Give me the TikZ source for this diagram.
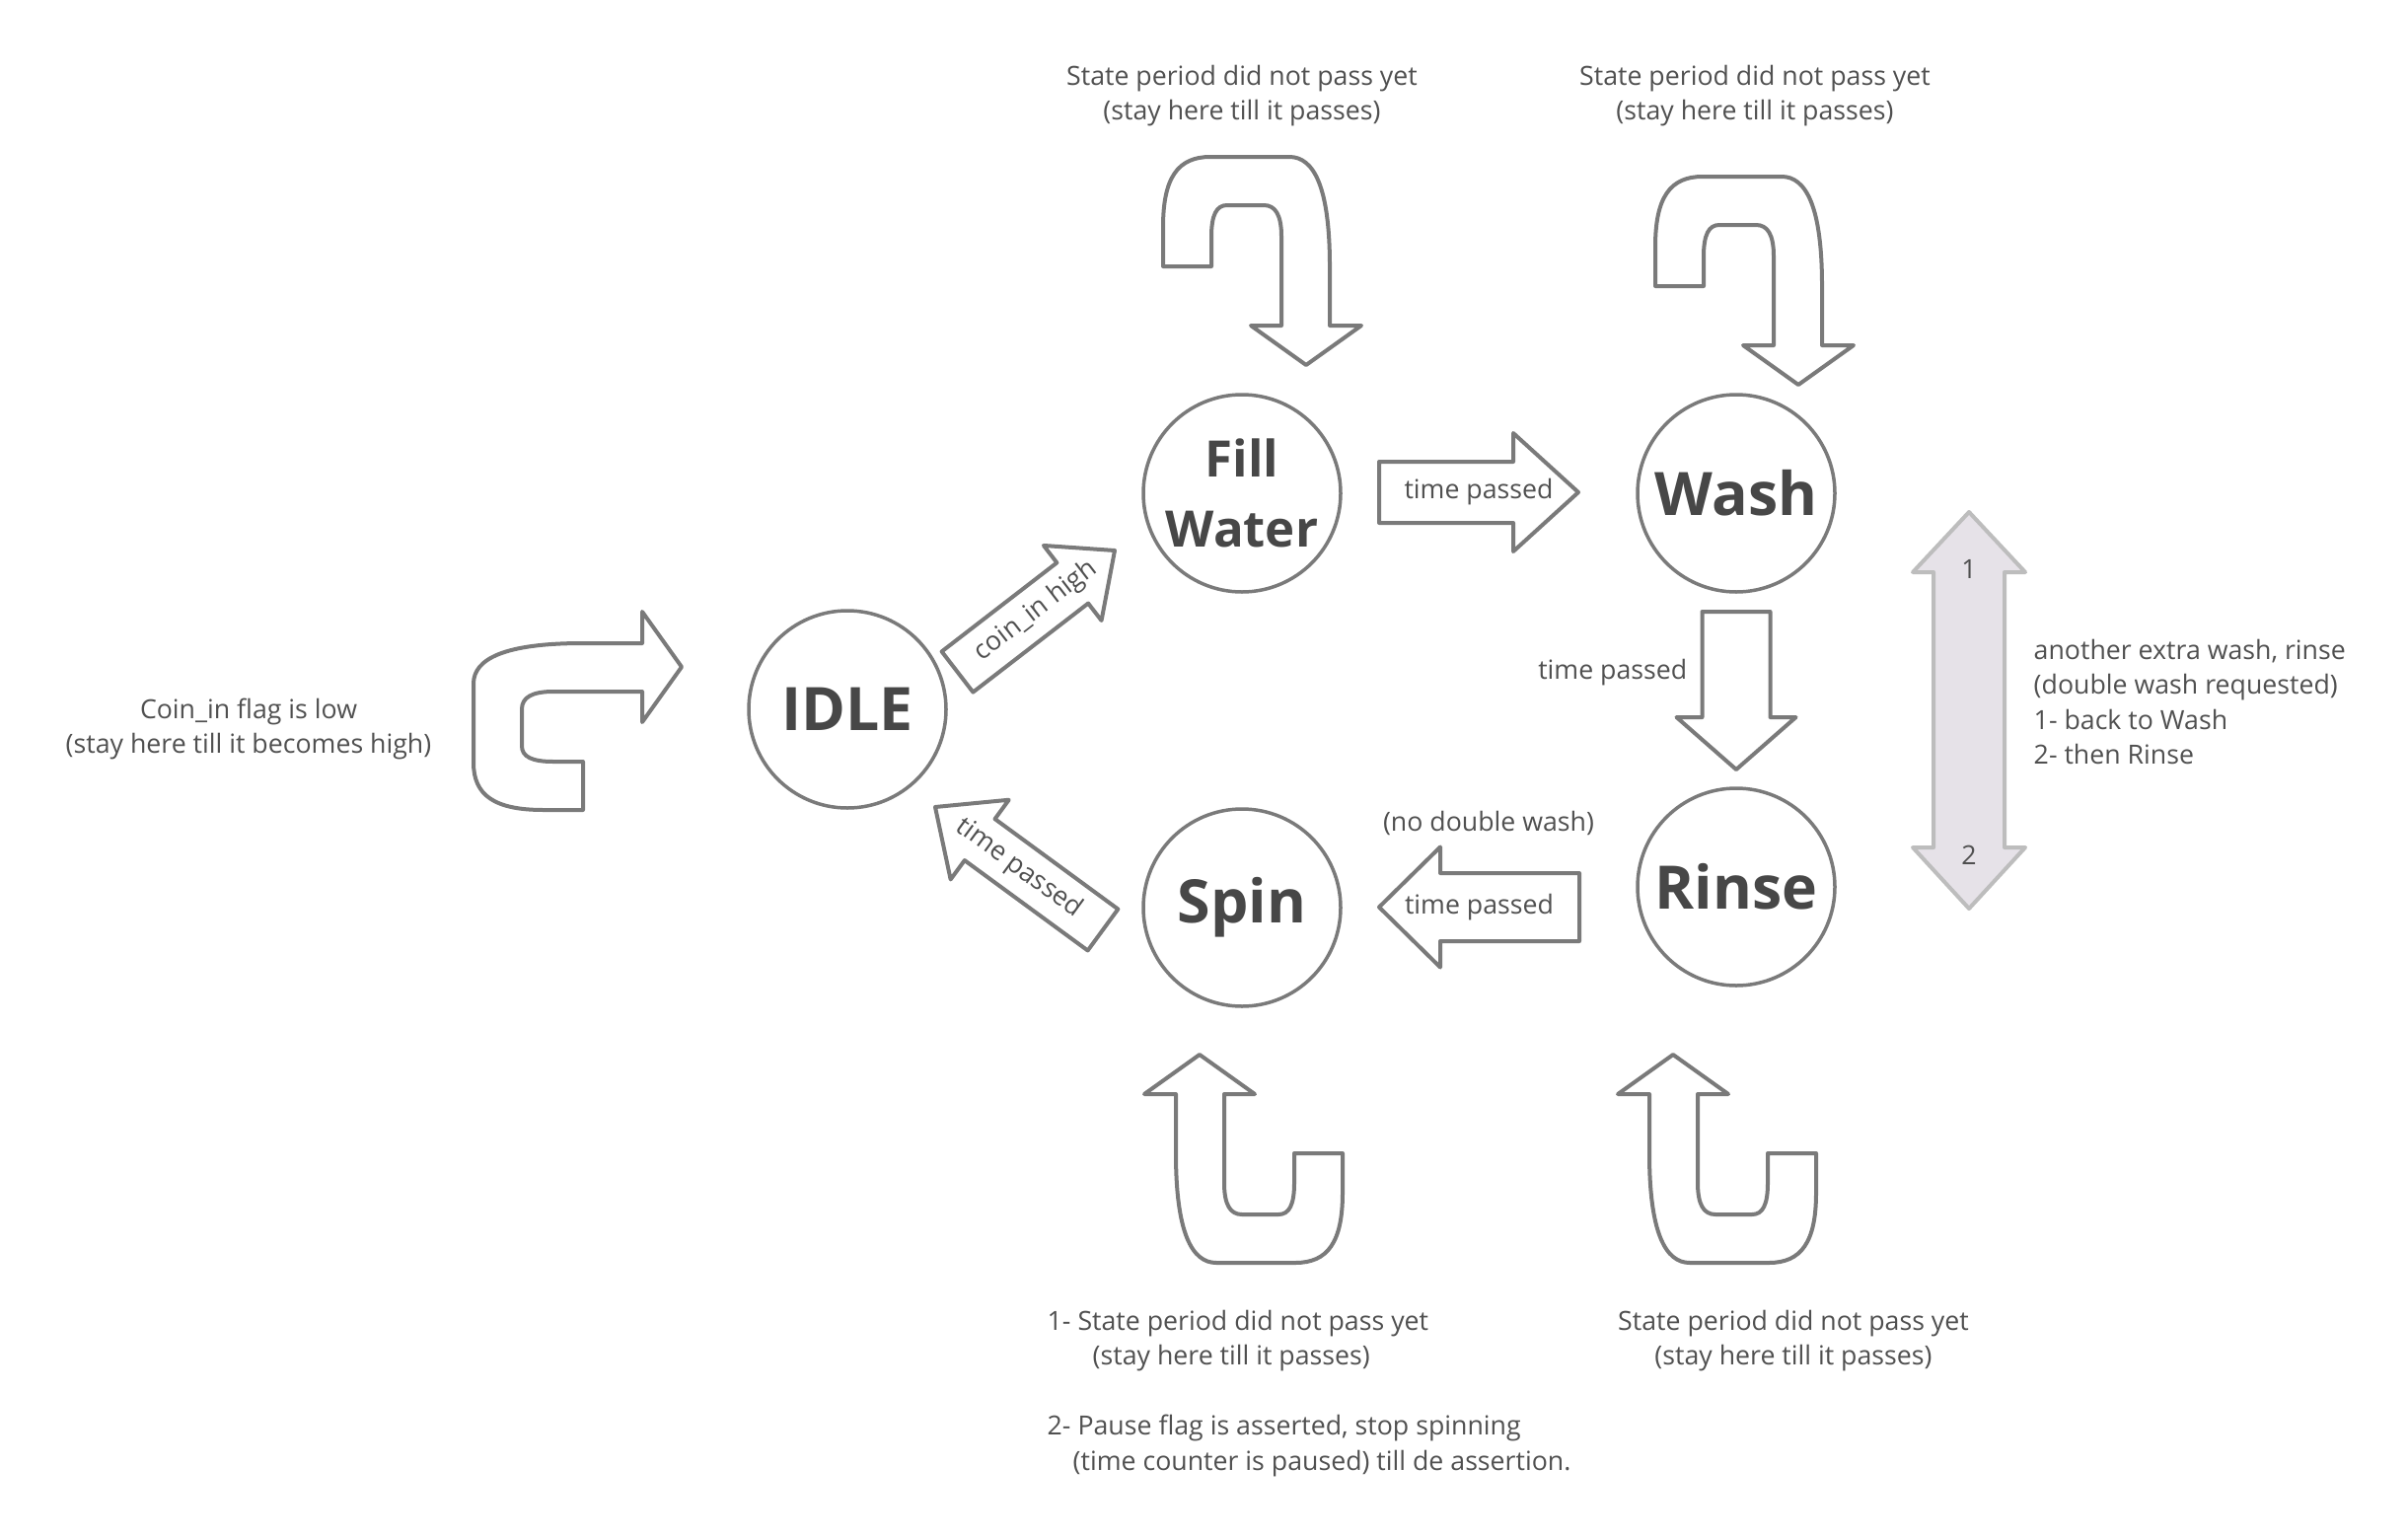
\documentclass[tikz,border=0pt]{standalone}
\usepackage{fontspec}
\setmainfont{Open Sans}
\usetikzlibrary{calc}

\definecolor{linegray}{HTML}{7A7A7A}
\definecolor{inkgray}{HTML}{474747}
\definecolor{notegray}{HTML}{505050}
\definecolor{dblfill}{HTML}{E6E2E8}
\definecolor{dbledge}{HTML}{BDBDBD}

% block arrow: tail, tip, shaft half width, head half width, head length
\newcommand\blockarrow[5]{%
  \coordinate (hb) at ($(#2)!#5!(#1)$);
  \draw[blk] ($(#1)!#3!90:(#2)$) -- ($(hb)!#3!90:(#2)$) -- ($(hb)!#4!90:(#2)$) -- (#2)
    -- ($(hb)!#4!-90:(#2)$) -- ($(hb)!#3!-90:(#2)$) -- ($(#1)!#3!-90:(#2)$) -- cycle;}

\begin{document}
\begin{tikzpicture}[x=0.1mm, y=-0.1mm,
    state/.style={circle, draw=linegray, line width=0.35mm, minimum size=20mm, inner sep=0pt,
                  text=inkgray, font=\bfseries\fontsize{17.3}{20}\selectfont, align=center},
    blk/.style={draw=linegray, line width=0.4mm, line join=round, fill=white},
    note/.style={text=notegray, font=\fontsize{7.6}{10.1}\selectfont, inner sep=0pt},
    uturn/.pic={
      \draw[blk] (-145,-100) -- (-145,-140) .. controls (-145,-190) and (-130,-211) .. (-97,-211)
        -- (-17,-211) .. controls (8,-211) and (24,-180) .. (24,-100) -- (24,-40) -- (56,-40) -- (0,0)
        -- (-56,-40) -- (-25,-40) -- (-25,-130) .. controls (-25,-152) and (-31,-162) .. (-43,-162)
        -- (-80,-162) .. controls (-91,-162) and (-96,-152) .. (-96,-130) -- (-96,-100) -- cycle;
    }]
  \useasboundingbox (0,0) rectangle (2440,1560);

  % states
  \node[state] (idle) at (859,719) {IDLE};
  \node[state, font=\bfseries\fontsize{14.5}{20.4}\selectfont] (fill) at (1259,500) {Fill\\Water};
  \node[state] (wash) at (1760,500) {Wash};
  \node[state] (rinse) at (1760,899) {Rinse};
  \node[state] (spin) at (1259,920) {Spin};

  % transitions
  \coordinate (fw-a) at (1398,499);   \coordinate (fw-b) at (1600,499);
  \coordinate (wr-a) at (1760,620);   \coordinate (wr-b) at (1760,780);
  \coordinate (rs-a) at (1601,919.5); \coordinate (rs-b) at (1398,919.5);
  \coordinate (if-a) at (970.5,681);  \coordinate (if-b) at (1130,558);
  \coordinate (si-a) at (1118,942.5); \coordinate (si-b) at (948,818);
  \blockarrow{fw-a}{fw-b}{3.1mm}{6mm}{6.6mm}
  \blockarrow{wr-a}{wr-b}{3.45mm}{6.05mm}{5.3mm}
  \blockarrow{rs-a}{rs-b}{3.45mm}{6.1mm}{6.2mm}
  \blockarrow{if-a}{if-b}{2.6mm}{4.8mm}{5.4mm}
  \blockarrow{si-a}{si-b}{2.6mm}{5mm}{5.6mm}
  \path (fw-a) -- node[note] (fwlbl) {time passed} (fw-b);
  \path (rs-a) -- node[note] (rslbl) {time passed} (rs-b);
  \path (if-a) -- node[note, sloped] (iflbl) {coin\_in high} (if-b);
  \path (si-a) -- node[note, sloped] (silbl) {time passed} (si-b);
  \node[note, anchor=east] (wrlbl) at (1711,682) {time passed};
  \node[note] (nodbl) at (1509,834) {(no double wash)};

  % stay loops
  \pic (idleloop) [rotate=90] at (691,676) {uturn};
  \pic (fillloop) at (1324,370) {uturn};
  \pic (washloop) at (1823,390) {uturn};
  \pic (spinloop) [rotate=180] at (1216,1069) {uturn};
  \pic (rinseloop) [rotate=180] at (1696,1069) {uturn};

  \node[note, align=center] (idlenote) at (252,739)
        {Coin\_in flag is low\\(stay here till it becomes high)};
  \node[note, align=center] (fillnote) at (1259,97)
        {State period did not pass yet\\(stay here till it passes)};
  \node[note, align=center] (washnote) at (1779,97)
        {State period did not pass yet\\(stay here till it passes)};
  \node[note, align=center] (rinsenote) at (1818,1359)
        {State period did not pass yet\\(stay here till it passes)};
  \node[note, align=left, anchor=north west] (spinnote) at (1061,1327)
        {1- State period did not pass yet\\
         \hspace*{4.6mm}(stay here till it passes)\\[10.1pt]
         2- Pause flag is asserted, stop spinning\\
         \hspace*{2.6mm}(time counter is paused) till de assertion.};

  % double wash
  \draw[draw=dbledge, fill=dblfill, line width=0.4mm, line join=round]
    (1996,519) -- (2053,580) -- (2032,580) -- (2032,859) -- (2053,859) -- (1996,921)
    -- (1939,859) -- (1960,859) -- (1960,580) -- (1939,580) -- cycle;
  \node[note] (dblone) at (1996,577) {1};
  \node[note] (dbltwo) at (1996,867) {2};
  \node[note, align=left, anchor=north west] (dblnote) at (2061,647)
        {another extra wash, rinse\\(double wash requested)\\1- back to Wash\\2- then Rinse};
\end{tikzpicture}
\end{document}
